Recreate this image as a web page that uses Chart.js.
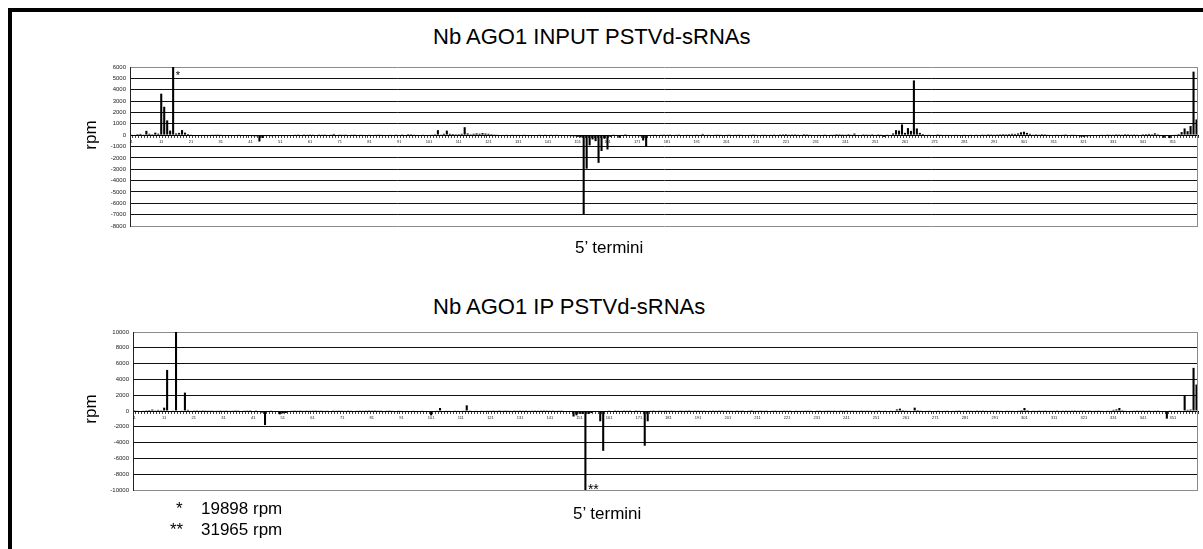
<!DOCTYPE html>
<html>
<head>
<meta charset="utf-8">
<script src="https://cdn.jsdelivr.net/npm/chart.js@4/dist/chart.umd.min.js"></script>
<style>
  html, body { margin: 0; padding: 0; background: #fff; }
  body { width: 1203px; height: 549px; position: relative; overflow: hidden;
         font-family: "Liberation Sans", Arial, sans-serif; color: #000; }
  .frame { position: absolute; left: 8px; top: 8px; width: 1400px; height: 800px;
           border-left: 4px solid #000; border-top: 4px solid #000; }
  canvas { position: absolute; left: 0; }
  .txt { position: absolute; white-space: nowrap; }
  .title { font-size: 22px; line-height: 22px; }
  .axis-name { font-size: 17px; line-height: 17px; }
  .rpm { font-size: 17px; line-height: 17px; transform: translate(-50%, -50%) rotate(-90deg); }
  .note { font-size: 17px; line-height: 17px; }
</style>
</head>
<body>
<div class="frame"></div>
<canvas id="input-chart" width="1203" height="185" style="top:55px"></canvas>
<canvas id="ip-chart" width="1203" height="185" style="top:320px"></canvas>

<div class="txt title" style="left:433px;top:26px">Nb AGO1 INPUT PSTVd-sRNAs</div>
<div class="txt rpm" style="left:90px;top:135px">rpm</div>
<div class="txt axis-name" style="left:575px;top:239px">5’ termini</div>

<div class="txt title" style="left:433px;top:296px">Nb AGO1 IP PSTVd-sRNAs</div>
<div class="txt rpm" style="left:90px;top:409px">rpm</div>
<div class="txt axis-name" style="left:573px;top:505px">5’ termini</div>

<div class="txt note" style="left:176px;top:500px">*</div>
<div class="txt note" style="left:201px;top:500px">19898 rpm</div>
<div class="txt note" style="left:170px;top:521px">**</div>
<div class="txt note" style="left:201px;top:521px">31965 rpm</div>

<script>
// PSTVd genome positions (5' termini), 1..359
const GENOME_LENGTH = 359;
const positions = Array.from({ length: GENOME_LENGTH }, (_, i) => String(i + 1));

// rpm per 5' terminus, positive = (+) strand, negative = (-) strand
const inputRpm = [
    30, 50, 90, 110, 60, 380, 120, 80, 220, 130,
    3650, 2500, 1300, 400, 19898, 150, 200, 450, 220, 100,
    30, -40, -60, -30, 40, 50, -30, 30, 60, 20,
    30, -20, 40, -50, -40, -30, 30, -60, -40, -50,
    -80, -90, -100, -560, -250, -80, -70, -90, -80, -70,
    -60, -80, -70, -50, -40, 30, 20, -30, 20, 30,
    20, 30, -20, 20, 30, 20, 40, 60, 110, 40,
    20, 30, 20, -20, 30, 20, 40, 30, 50, 40,
    30, 40, 30, 20, 30, 50, 40, 30, 40, 20,
    40, 70, -80, 90, 80, 60, 50, 40, 60, 50,
    40, 60, 80, 440, 60, 120, 400, 120, 100, 80,
    90, 120, 700, 150, 80, 120, 150, 130, 180, 140,
    120, 90, 70, 60, 40, 50, 60, 40, 30, 50,
    30, 40, 60, 50, 40, -30, -20, 30, 40, 30,
    40, 30, 50, 60, -40, -60, -50, -80, -90, -100,
    -150, -200, -6950, -2950, -900, -380, -530, -2440, -1400, -320,
    -1260, -150, 60, 40, -230, 50, 80, 40, -40, -60,
    -80, -100, -470, -1030, -60, 40, 30, -40, 30, 20,
    30, 20, 40, 30, 20, -30, 40, 60, 50, 40,
    60, 40, 110, 50, 30, 40, 30, 20, 30, 40,
    30, 20, 40, 30, 20, 30, 40, 50, 30, 20,
    30, 40, 30, 60, 40, 30, 20, 50, 70, 80,
    90, 60, 70, 80, 60, 50, 90, 80, 60, 40,
    40, 30, 50, 20, 40, 30, 60, 90, 80, 70,
    60, 90, 60, 140, 50, 40, 80, 70, 60, 80,
    50, 80, 60, -150, 60, 40, 150, 440, 400, 940,
    200, 620, 380, 4820, 590, 200, 100, 50, 30, 40,
    50, 80, 60, 40, 30, 50, 40, 30, 50, 40,
    30, 40, 30, 40, 60, 50, 70, 60, 80, 70,
    60, 70, 80, 90, 80, 100, 120, 110, 150, 250,
    300, 200, 120, 60, 80, 60, 90, 80, 60, 40,
    40, 60, 50, 30, 80, 40, 30, 60, -50, -120,
    -150, -110, -90, -70, -50, 40, 60, 50, 70, 60,
    60, 80, 70, 60, 90, 80, 60, 70, 60, 50,
    80, 90, 110, 80, 160, 80, -80, -230, -60, -260,
    40, 60, 100, 270, 590, 350, 800, 5590, 1380
];

const ipRpm = [
    20, 40, 60, 80, 100, 120, 180, 90, 140, 110,
    420, 5200, 60, 80, 10000, 60, 80, 2330, 150, 50,
    30, 20, 40, 20, 30, 40, 30, 50, 40, 30,
    40, 30, 50, 40, 20, 30, -20, 40, 30, 20,
    -30, 30, -60, -200, -1780, -80, 40, -60, -120, -420,
    -300, -250, -100, 40, 30, 40, 30, 50, 30, 40,
    30, 20, 40, 30, 50, 40, 60, 30, 40, 30,
    40, 50, 30, 40, 60, 40, 30, 40, 30, 20,
    30, 20, 40, 30, -30, 40, 30, 50, 60, 40,
    50, 60, 70, 60, 80, 70, 60, 80, -90, -120,
    -550, 60, 80, 380, 60, 50, 70, 60, 40, 50,
    60, 80, 720, 90, 60, 50, 60, 40, 50, 40,
    40, 30, 50, 20, 40, 30, 40, 50, 30, 40,
    30, 40, 30, 50, 40, 30, 40, 30, 20, 30,
    40, 30, 50, 40, 30, -60, -80, -100, -700, -550,
    -350, -380, -31965, -380, -260, -80, -100, -1300, -5040, 60,
    40, 60, 30, 40, 50, 30, 40, 30, -40, 30,
    40, -60, -4400, -1300, 40, 30, 50, 30, 40, 30,
    40, 30, 40, 50, 30, 40, 30, 20, 40, 30,
    30, 40, 30, 50, 40, 30, 40, 30, 20, 40,
    30, 40, 50, 30, 40, 30, 60, 40, 120, 50,
    40, 30, 40, 30, 60, 40, 30, 50, 40, 30,
    40, 30, 60, 40, 50, 80, 40, 30, 40, 60,
    40, 30, 50, 40, 30, 40, 30, 50, 30, 40,
    30, 40, 30, 40, 50, 30, 40, 30, 40, 50,
    40, 30, 50, 40, 60, 80, 70, 200, 300, 120,
    90, 80, 60, 420, 120, 90, 60, 50, 40, 60,
    50, 40, 60, 50, 40, 60, 50, 40, 30, 50,
    40, 30, 40, 50, 30, 40, 30, 40, 50, 30,
    40, 30, 50, 60, 40, 50, 80, 60, 90, 120,
    380, 120, 60, 40, 50, 30, 40, 30, 50, 40,
    40, 30, 50, 40, 30, 40, 30, 20, 40, 30,
    30, 40, 30, 50, 40, 30, 50, -120, 40, 80,
    150, 200, 380, 120, 80, 60, 50, 40, 30, 40,
    30, 40, 30, 50, 40, 30, 60, -100, -970, 40,
    60, 50, 80, 60, 2000, 150, 180, 5460, 3350
];

// y axis ranges / steps
const inputTicks = { min: -8000, max: 6000, step: 1000 };
const ipTicks = { min: -10000, max: 10000, step: 2000 };

// bars running off the scale, flagged with asterisks
const inputFlags = [{ position: '15', text: '*', size: 11, side: 'top' }];
const ipFlags = [{ position: '153', text: '**', size: 14, side: 'bottom' }];

const FONT = '"Liberation Sans", Arial, sans-serif';

// right edge of the plot frame + asterisks next to clipped bars
const plotExtras = {
    id: 'plotExtras',
    afterDatasetsDraw(chart, args, opts) {
        const { ctx, chartArea } = chart;
        const xScale = chart.scales.x;
        ctx.save();
        ctx.strokeStyle = '#8c8c8c';
        ctx.lineWidth = 1;
        ctx.beginPath();
        ctx.moveTo(Math.round(chartArea.right) - 0.5, chartArea.top);
        ctx.lineTo(Math.round(chartArea.right) - 0.5, chartArea.bottom);
        ctx.stroke();

        ctx.fillStyle = '#000';
        ctx.textAlign = 'left';
        ctx.textBaseline = 'alphabetic';
        (opts.flags || []).forEach(f => {
            const px = xScale.getPixelForValue(positions.indexOf(f.position));
            ctx.font = f.size + 'px ' + FONT;
            const py = f.side === 'top' ? chartArea.top + 12 : chartArea.bottom + 4;
            ctx.fillText(f.text, px + 2.5, py);
        });
        ctx.restore();
    }
};

const makeChart = (canvasId, values, range, flags, yWidth, padding) => {
    const ctx = document.getElementById(canvasId).getContext('2d');
    return new Chart(ctx, {
        type: 'bar',
        data: {
            labels: positions,
            datasets: [{
                data: values,
                backgroundColor: '#000',
                borderWidth: 0,
                barPercentage: 0.7,
                categoryPercentage: 1.0,
                clip: 0
            }]
        },
        options: {
            responsive: false,
            animation: false,
            layout: { padding: padding },
            plugins: {
                legend: { display: false },
                tooltip: { enabled: false },
                plotExtras: { flags: flags }
            },
            scales: {
                x: {
                    position: { y: 0 },
                    grid: {
                        display: true,
                        drawOnChartArea: false,
                        drawTicks: true,
                        tickLength: 2,
                        color: '#444'
                    },
                    border: { display: true, color: '#000', width: 1 },
                    ticks: {
                        autoSkip: false,
                        maxRotation: 0,
                        minRotation: 0,
                        padding: 2,
                        color: '#222',
                        font: { family: FONT, size: 4 },
                        callback: function (value, index) {
                            return index % 10 === 0 ? this.getLabelForValue(value) : '';
                        }
                    }
                },
                y: {
                    min: range.min,
                    max: range.max,
                    afterFit: (scale) => { scale.width = yWidth; },
                    grid: {
                        drawTicks: false,
                        lineWidth: 1,
                        color: (c) => (c.tick && (c.tick.value === range.max || c.tick.value === range.min)) ? '#8c8c8c' : '#111'
                    },
                    border: { display: true, color: '#222', width: 1 },
                    ticks: {
                        stepSize: range.step,
                        padding: 4,
                        color: '#222',
                        font: { family: FONT, size: 6 },
                        callback: (v) => String(v)
                    }
                }
            }
        },
        plugins: [plotExtras]
    });
};

makeChart('input-chart', inputRpm, inputTicks, inputFlags, 130, { top: 12, bottom: 14, left: 0, right: 5 });
makeChart('ip-chart', ipRpm, ipTicks, ipFlags, 133, { top: 12, bottom: 15, left: 0, right: 5 });
</script>
</body>
</html>
